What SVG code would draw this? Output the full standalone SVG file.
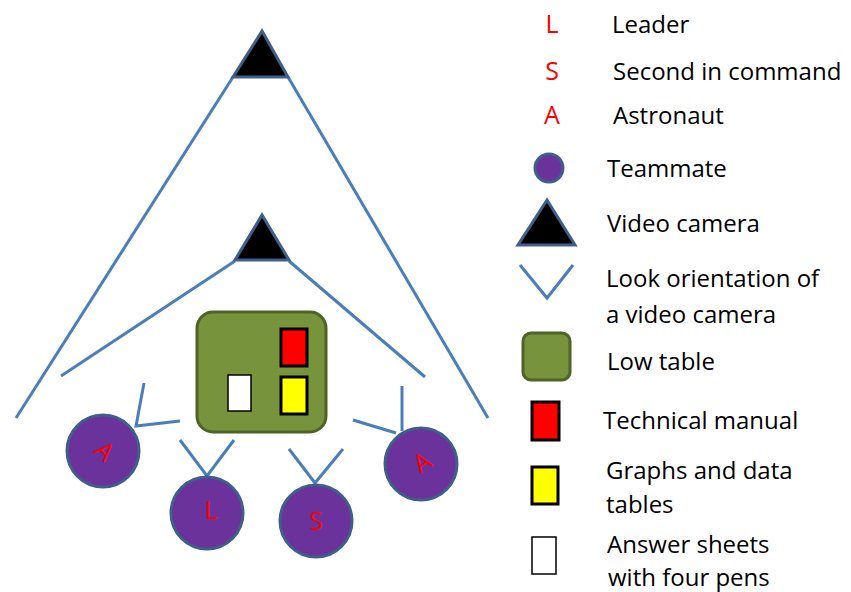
<svg xmlns="http://www.w3.org/2000/svg" width="851" height="592" viewBox="0 0 851 592">
<style>
.ln{fill:none;stroke:#4A7EBB;stroke-width:3;stroke-linecap:butt;stroke-linejoin:miter}
.cam{fill:#000;stroke:#3F5F8A;stroke-width:3;stroke-linejoin:miter}
.mate{fill:#6A329A;stroke:#3F5F8A;stroke-width:3}
.tbl{fill:#77933C;stroke:#4F6228;stroke-width:3}
.man{fill:#FF0000;stroke:#000;stroke-width:3}
.gra{fill:#FFFF00;stroke:#000;stroke-width:3}
.ans{fill:#FFF;stroke:#000;stroke-width:1.5}
.lbl{font-family:"Open Sans","Liberation Sans",sans-serif;font-size:24px;fill:#000}
.red{font-family:"Open Sans","Liberation Sans",sans-serif;font-size:25px;fill:#FF0000;text-anchor:middle}
</style>
<g id="connectors">
<polyline class="ln" points="16,418 233,77"/>
<polyline class="ln" points="288,77 488,418"/>
<polyline class="ln" points="61,376 235,261"/>
<polyline class="ln" points="289,261 425,377"/>
<polyline class="ln" points="144,383 136,426 180,421"/>
<polyline class="ln" points="180,440 207,476 234,440"/>
<polyline class="ln" points="289,449 315,483 343,449"/>
<polyline class="ln" points="353,420 396,433"/>
<polyline class="ln" points="402,386 402,431"/>
</g>
<g id="camera-top"><polygon class="cam" points="262,31 233,77 288,77"/></g>
<g id="camera-mid"><polygon class="cam" points="262,215 235,260 289,260"/></g>
<g id="table">
<rect class="tbl" x="197" y="312" width="129" height="120" rx="16"/>
<rect class="man" x="281" y="329" width="26" height="37"/>
<rect class="gra" x="281" y="377" width="26" height="37"/>
<rect class="ans" x="228" y="375" width="23" height="36"/>
</g>
<g id="astronaut-left">
<circle class="mate" cx="103" cy="451" r="36"/>
<text class="red" transform="translate(105,451) rotate(45)" y="9" font-size="25">A</text>
</g>
<g id="leader">
<circle class="mate" cx="207" cy="513" r="36"/>
<text class="red" x="211" y="519">L</text>
</g>
<g id="second">
<circle class="mate" cx="316" cy="521" r="36"/>
<text class="red" x="316" y="530">S</text>
</g>
<g id="astronaut-right">
<circle class="mate" cx="421" cy="464" r="36"/>
<text class="red" transform="translate(422,462) rotate(-34)" y="9" font-size="25">A</text>
</g>
<g id="legend">
<text class="red" x="552" y="33">L</text><text class="lbl" x="612" y="33">Leader</text>
<text class="red" x="552" y="80">S</text><text class="lbl" x="613" y="80">Second in command</text>
<text class="red" x="552" y="124">A</text><text class="lbl" x="613" y="124">Astronaut</text>
<circle class="mate" cx="549" cy="168" r="14"/><text class="lbl" x="607" y="177">Teammate</text>
<polygon class="cam" points="547,200 518,245 575,245"/><text class="lbl" x="607" y="232">Video camera</text>
<polyline class="ln" points="520,265 547,298 573,265"/>
<text class="lbl" x="606" y="287">Look orientation of</text>
<text class="lbl" x="606" y="323">a video camera</text>
<rect class="tbl" x="523" y="333" width="47" height="47" rx="8"/><text class="lbl" x="607" y="370">Low table</text>
<rect class="man" x="532" y="402" width="27" height="38"/><text class="lbl" x="603" y="429">Technical manual</text>
<rect class="gra" x="532" y="467" width="26" height="37"/>
<text class="lbl" x="606" y="479">Graphs and data</text>
<text class="lbl" x="606" y="513">tables</text>
<rect class="ans" x="532" y="537" width="24" height="37"/>
<text class="lbl" x="607" y="553">Answer sheets</text>
<text class="lbl" x="608" y="586">with four pens</text>
</g>
</svg>
